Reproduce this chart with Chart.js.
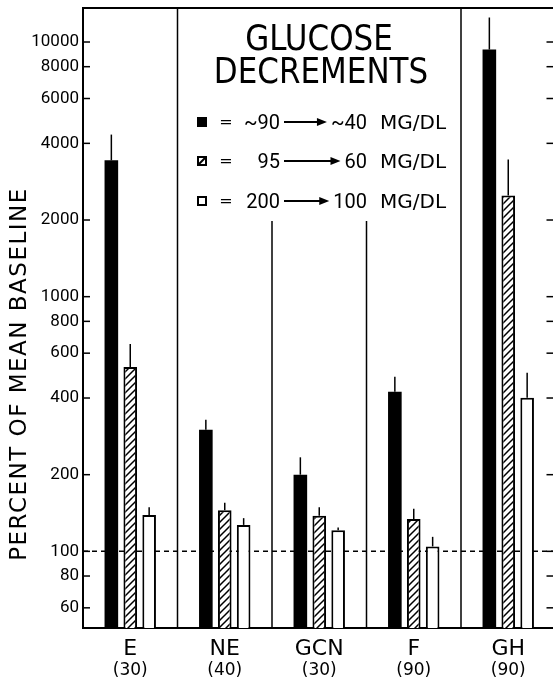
<!DOCTYPE html>
<html><head><meta charset="utf-8">
<script src="https://cdn.jsdelivr.net/npm/chart.js@4"></script>
<style>
html,body{margin:0;padding:0;background:#fff;overflow:hidden;width:553px;height:683px}
#wrap{position:absolute;left:0;top:0;width:560px;height:683px}
</style>
</head><body><div id="wrap"><canvas id="c" width="560" height="683"></canvas></div>
<script>
// ---- data ----
const categories = ['E', 'NE', 'GCN', 'F', 'GH'];
const durations = ['(30)', '(40)', '(30)', '(90)', '(90)'];
const legendFrom = ['~90', '95', '200'];
const legendTo = ['~40', '60', '100'];
const legendUnit = 'MG/DL';
const seriesLabels = ['~90 \u2192 ~40 MG/DL', '95 \u2192 60 MG/DL', '200 \u2192 100 MG/DL'];
const titleLines = ['GLUCOSE', 'DECREMENTS'];
const yAxisTitle = 'PERCENT OF MEAN BASELINE';
const severeValues = [3430, 300, 200, 423, 9340];
const severeErrors = [4330, 329, 234, 485, 12480];
const moderateValues = [530, 145, 138, 134, 2494];
const moderateErrors = [652, 155, 149, 147, 3455];
const mildValues = [139, 127, 121, 104.5, 401];
const mildErrors = [149, 135, 124, 114, 503];
const yTicks = [60, 80, 100, 200, 400, 600, 800, 1000, 2000, 4000, 6000, 8000, 10000];
const baselineValue = 100;

// ---- hatch pattern ----
function makeHatch() {
  const c = document.createElement('canvas');
  c.width = 7; c.height = 7;
  const g = c.getContext('2d');
  g.fillStyle = '#fff'; g.fillRect(0, 0, 7, 7);
  g.strokeStyle = '#000'; g.lineWidth = 1.5;
  g.beginPath();
  g.moveTo(-1, 8); g.lineTo(8, -1);
  g.moveTo(-1, 1); g.lineTo(1, -1);
  g.moveTo(6, 8); g.lineTo(8, 6);
  g.stroke();
  return g.createPattern(c, 'repeat');
}
const hatch = makeHatch();

const SEP_PARTIAL_TOP = 1980; // value where inner separators begin

const framePlugin = {
  id: 'frame',
  beforeDatasetsDraw(chart) {
    const {ctx, chartArea: a, scales: {x, y}} = chart;
    ctx.save();
    ctx.strokeStyle = '#000';
    ctx.lineWidth = 1.5;
    ctx.setLineDash([5, 4]);
    const yb = y.getPixelForValue(baselineValue);
    ctx.beginPath(); ctx.moveTo(a.left, yb); ctx.lineTo(a.right, yb); ctx.stroke();
    ctx.setLineDash([]);
    ctx.lineWidth = 1.5;
    for (let i = 1; i < categories.length; i++) {
      const xs = (x.getPixelForValue(i - 1) + x.getPixelForValue(i)) / 2;
      const full = (i === 1 || i === categories.length - 1);
      const top = full ? a.top : y.getPixelForValue(SEP_PARTIAL_TOP);
      ctx.beginPath(); ctx.moveTo(xs, top); ctx.lineTo(xs, a.bottom); ctx.stroke();
    }
    ctx.lineWidth = 2;
    ctx.beginPath(); ctx.moveTo(a.left - 1, a.top); ctx.lineTo(a.right, a.top); ctx.stroke();
    ctx.lineWidth = 1.5;
    yTicks.forEach(v => {
      const py = y.getPixelForValue(v);
      ctx.beginPath(); ctx.moveTo(a.left, py); ctx.lineTo(a.left + 7, py); ctx.stroke();
      ctx.beginPath(); ctx.moveTo(a.right - 9, py); ctx.lineTo(a.right, py); ctx.stroke();
    });
    ctx.restore();
  },
  afterDatasetsDraw(chart) {
    const {ctx, scales: {y}} = chart;
    ctx.save();
    ctx.strokeStyle = '#000'; ctx.lineWidth = 1.5;
    chart.data.datasets.forEach((ds, di) => {
      const meta = chart.getDatasetMeta(di);
      meta.data.forEach((bar, i) => {
        const yt = y.getPixelForValue(ds.errors[i]);
        ctx.beginPath(); ctx.moveTo(bar.x, bar.y); ctx.lineTo(bar.x, yt); ctx.stroke();
      });
    });
    ctx.restore();
  },
  afterDraw(chart) {
    const {ctx} = chart;
    ctx.save();
    ctx.fillStyle = '#000'; ctx.strokeStyle = '#000';
    // y axis title
    ctx.save();
    ctx.translate(26, 374);
    ctx.rotate(-Math.PI / 2);
    ctx.font = '23px "DejaVu Sans"';
    ctx.letterSpacing = '1.5px';
    ctx.textAlign = 'center'; ctx.textBaseline = 'alphabetic';
    ctx.fillText(yAxisTitle, 0, 0);
    ctx.restore();
    // chart title
    ctx.font = '31px "DejaVu Sans"';
    ctx.textAlign = 'center'; ctx.textBaseline = 'alphabetic';
    ctx.save(); ctx.translate(319, 50); ctx.scale(1, 1.12); ctx.fillText(titleLines[0], 0, 0); ctx.restore();
    ctx.save(); ctx.translate(321, 83); ctx.scale(1, 1.12); ctx.fillText(titleLines[1], 0, 0); ctx.restore();
    // legend
    const rows = [122, 161, 201];
    rows.forEach((ry, i) => {
      const bx = 197, bs = 10;
      ctx.lineWidth = 2;
      if (i === 0) { ctx.fillRect(bx, ry - bs / 2, bs, bs); }
      else {
        ctx.strokeRect(bx + 1, ry - bs / 2 + 1, bs - 2, bs - 2);
        if (i === 1) { ctx.beginPath(); ctx.moveTo(bx + 1, ry + bs / 2 - 1); ctx.lineTo(bx + bs - 1, ry - bs / 2 + 1); ctx.stroke(); }
      }
      ctx.font = '16px "DejaVu Sans"';
      ctx.textAlign = 'center';
      ctx.fillText('=', 226, ry + 5);
      ctx.font = '20px Roboto';
      ctx.textAlign = 'right';
      ctx.fillText(legendFrom[i], 280, ry + 7);
      ctx.fillText(legendTo[i], 367, ry + 7);
      const toLeft = 367 - ctx.measureText(legendTo[i]).width;
      const ax0 = 284, ax1 = toLeft - 4;
      ctx.lineWidth = 2;
      ctx.beginPath(); ctx.moveTo(ax0, ry); ctx.lineTo(ax1 - 8, ry); ctx.stroke();
      ctx.beginPath(); ctx.moveTo(ax1 - 10, ry - 4); ctx.lineTo(ax1, ry); ctx.lineTo(ax1 - 10, ry + 4); ctx.closePath(); ctx.fill();
      ctx.font = '20px "DejaVu Sans"';
      ctx.textAlign = 'left';
      ctx.fillText(legendUnit, 380, ry + 7);
    });
    ctx.restore();
  }
};

new Chart(document.getElementById('c'), {
  type: 'bar',
  data: {
    labels: categories,
    datasets: [
      {label: seriesLabels[0], data: severeValues, errors: severeErrors, backgroundColor: '#000', borderColor: '#000', borderWidth: 0},
      {label: seriesLabels[1], data: moderateValues, errors: moderateErrors, backgroundColor: hatch, borderColor: '#000', borderWidth: 2},
      {label: seriesLabels[2], data: mildValues, errors: mildErrors, backgroundColor: '#fff', borderColor: '#000', borderWidth: 2}
    ]
  },
  options: {
    responsive: false,
    animation: false,
    devicePixelRatio: 1,
    categoryPercentage: 0.6,
    barPercentage: 0.72,
    layout: {padding: {left: 0, right: 4.5, top: 8, bottom: 0}},
    plugins: {legend: {display: false}, tooltip: {enabled: false}, title: {display: false}},
    scales: {
      x: {
        type: 'category', offset: true,
        grid: {display: false},
        border: {display: true, color: '#000', width: 2},
        ticks: {color: '#000', font: {family: '"DejaVu Sans"', size: 22}, padding: 0, maxRotation: 0},
        afterFit(s) { s.height = 30; }
      },
      x2: {
        type: 'category', labels: durations, position: 'bottom', offset: true,
        grid: {display: false}, border: {display: false},
        ticks: {color: '#000', font: {family: '"DejaVu Sans"', size: 17}, padding: -6, maxRotation: 0},
        afterFit(s) { s.height = 25; }
      },
      y: {
        type: 'logarithmic', min: 50, max: 13600,
        border: {display: true, color: '#000', width: 2},
        grid: {display: false, drawTicks: false},
        ticks: {color: '#000', font: {family: 'Roboto', size: 17}, padding: 4, autoSkip: false, callback: v => String(v)},
        afterBuildTicks(s) { s.ticks = yTicks.map(v => ({value: v})); },
        afterFit(s) { s.width = 83; s.paddingTop = 0; s.paddingBottom = 0; }
      }
    }
  },
  plugins: [framePlugin]
});
</script>
</body></html>
